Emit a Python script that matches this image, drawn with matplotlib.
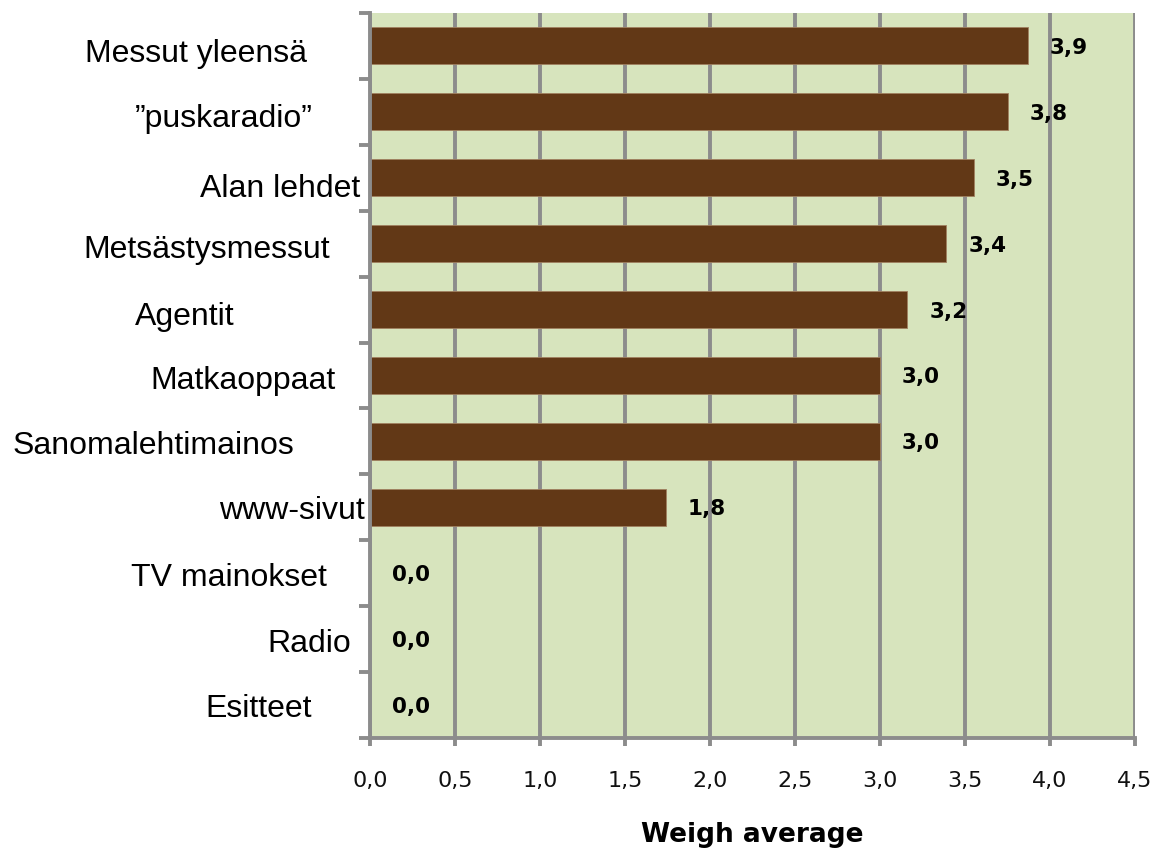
import numpy as np
import matplotlib
matplotlib.use('Agg')
import matplotlib.pyplot as plt

# data
categories = ['Messut yleensä', '\u201dpuskaradio\u201d', 'Alan lehdet', 'Metsästysmessut',
              'Agentit', 'Matkaoppaat', 'Sanomalehtimainos', 'www-sivut',
              'TV mainokset', 'Radio', 'Esitteet']
values = [3.87, 3.75, 3.55, 3.39, 3.16, 3.0, 3.0, 1.74, 0.0, 0.0, 0.0]
value_labels = ['3,9', '3,8', '3,5', '3,4', '3,2', '3,0', '3,0', '1,8', '0,0', '0,0', '0,0']
xticks = [0.0, 0.5, 1.0, 1.5, 2.0, 2.5, 3.0, 3.5, 4.0, 4.5]
xtick_labels = ['0,0', '0,5', '1,0', '1,5', '2,0', '2,5', '3,0', '3,5', '4,0', '4,5']

# category label placement (pixel offsets from the left spine, uneven like the original)
label_dx = [-174, -146, -90, -163, -185, -127, -217, -78, -141, -61, -111]
label_dy = [-16, -15, -19, -14, -15, -14, -13, -12, -13, -13, -12]

grid_grey = '#8c8c8c'
bar_brown = '#623816'
bg_green = '#d7e4bd'

fig = plt.figure(figsize=(11.57, 8.49), dpi=100)
ax = fig.add_axes([370 / 1157, 1 - 738 / 849, (1135 - 370) / 1157, (738 - 13) / 849])
ax.set_facecolor(bg_green)

y = np.arange(len(categories))
ax.barh(y, values, height=0.56, color=bar_brown, edgecolor='#a08060', linewidth=0.6, zorder=3)

ax.set_xlim(0, 4.5)
ax.set_ylim(len(categories) - 0.5, -0.5)

ax.set_xticks(xticks)
ax.set_xticklabels(xtick_labels, fontsize=16, family='DejaVu Sans', color='#111111')
ax.set_yticks(np.arange(len(categories) + 1) - 0.5)
ax.set_yticklabels([])
ax.tick_params(axis='x', length=6, width=2.8, color=grid_grey, pad=18)
ax.tick_params(axis='y', length=8, width=2.8, color=grid_grey)

ax.grid(axis='x', color=grid_grey, linewidth=2.8, zorder=1)
ax.set_axisbelow(True)
for s in ['top', 'right']:
    ax.spines[s].set_visible(False)
for s in ['left', 'bottom']:
    ax.spines[s].set_color(grid_grey)
    ax.spines[s].set_linewidth(2.8)
    ax.spines[s].set_zorder(4)

for i, (cat, dx, dy) in enumerate(zip(categories, label_dx, label_dy)):
    ax.annotate(cat, xy=(0, i), xycoords=('axes fraction', 'data'),
                xytext=(dx, dy), textcoords='offset pixels',
                ha='center', va='baseline', fontsize=23, family='Liberation Sans',
                annotation_clip=False)

for i, (v, lab) in enumerate(zip(values, value_labels)):
    ax.annotate(lab, xy=(v, i), xytext=(22, -2), textcoords='offset pixels',
                ha='left', va='center', fontsize=15.5, fontweight='bold',
                family='DejaVu Sans', zorder=5)

ax.set_xlabel('Weigh average', fontsize=19, fontweight='bold', family='DejaVu Sans', labelpad=22)

fig.savefig('out.png', dpi=100)
